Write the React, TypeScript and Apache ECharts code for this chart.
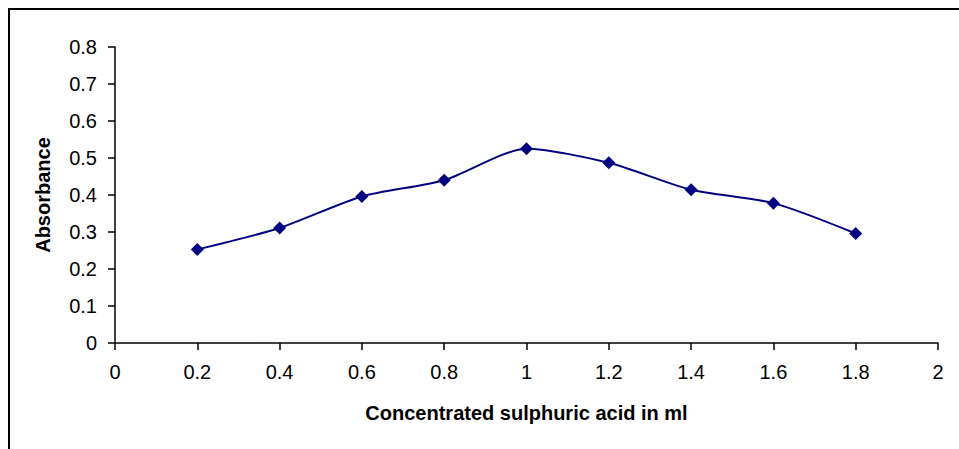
import React, { useEffect, useRef } from "react";
import * as echarts from "echarts";

const xValues = [0.2, 0.4, 0.6, 0.8, 1.0, 1.2, 1.4, 1.6, 1.8];
const absorbance = [0.253, 0.311, 0.396, 0.44, 0.525, 0.487, 0.414, 0.378, 0.296];
const xTitle = "Concentrated sulphuric acid in ml";
const yTitle = "Absorbance";

export default function App() {
  const ref = useRef<HTMLDivElement>(null);
  useEffect(() => {
    const chart = echarts.init(ref.current!, null, { renderer: "svg" });
    const font = "'Liberation Sans', Arial, sans-serif";
    chart.setOption({
      animation: false,
      backgroundColor: "#ffffff",
      grid: { left: 115, right: 21, top: 47, bottom: 106, containLabel: false },
      graphic: [
        {
          type: "rect",
          shape: { x: 9, y: 9, width: 1000, height: 500 },
          style: { fill: "none", stroke: "#000", lineWidth: 2 },
          silent: true,
        },
      ],
      xAxis: {
        type: "value",
        min: 0,
        max: 2,
        interval: 0.2,
        name: xTitle,
        nameLocation: "middle",
        nameGap: 60,
        nameTextStyle: { fontFamily: font, fontSize: 20, fontWeight: "bold", color: "#000" },
        axisLine: { onZero: false, lineStyle: { color: "#000", width: 1.5 } },
        axisTick: { show: true, inside: false, length: 7, lineStyle: { color: "#000", width: 1.5 } },
        axisLabel: { fontFamily: font, fontSize: 20, color: "#000", margin: 19 },
        splitLine: { show: false },
      },
      yAxis: {
        type: "value",
        min: 0,
        max: 0.8,
        interval: 0.1,
        name: yTitle,
        nameLocation: "middle",
        nameGap: 62,
        nameRotate: 90,
        nameTextStyle: { fontFamily: font, fontSize: 20, fontWeight: "bold", color: "#000" },
        axisLine: { show: true, lineStyle: { color: "#000", width: 1.5 } },
        axisTick: { show: true, inside: false, length: 7, lineStyle: { color: "#000", width: 1.5 } },
        axisLabel: { fontFamily: font, fontSize: 20, color: "#000", margin: 18 },
        splitLine: { show: false },
      },
      series: [
        {
          type: "line",
          data: xValues.map((x, i) => [x, absorbance[i]]),
          smooth: 0.25,
          symbol: "diamond",
          symbolSize: 13,
          showSymbol: true,
          lineStyle: { color: "#000080", width: 2 },
          itemStyle: { color: "#000080" },
        },
      ],
    });
    return () => chart.dispose();
  }, []);
  return (
    <div
      ref={ref}
      style={{ position: "absolute", left: 0, top: 0, width: 959, height: 449 }}
    />
  );
}
